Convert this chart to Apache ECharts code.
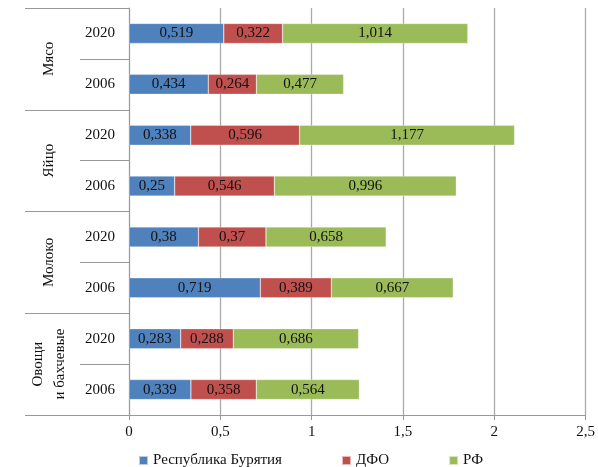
<!DOCTYPE html>
<html><head><meta charset="utf-8">
<script src="https://cdn.jsdelivr.net/npm/echarts@6/dist/echarts.min.js"></script>
<style>html,body{margin:0;padding:0;background:#fff}#c{width:598px;height:467px}</style>
</head><body><div id="c"></div>
<script>
const groups = ['Мясо', 'Яйцо', 'Молоко', 'Овощи\nи бахчевые'];
const years = ['2020', '2006', '2020', '2006', '2020', '2006', '2020', '2006'];
const seriesNames = ['Республика Бурятия', 'ДФО', 'РФ'];
const buryatia = [0.519, 0.434, 0.338, 0.25, 0.38, 0.719, 0.283, 0.339];
const dfo = [0.322, 0.264, 0.596, 0.546, 0.37, 0.389, 0.288, 0.358];
const rf = [1.014, 0.477, 1.177, 0.996, 0.658, 0.667, 0.686, 0.564];
const xTicks = { min: 0, max: 2.5, interval: 0.5 };
const colors = ['#4F81BD', '#C0504D', '#9BBB59'];

const font = '"Liberation Serif", "DejaVu Serif", serif';
const fmt = v => String(v).replace('.', ',');
const chart = echarts.init(document.getElementById('c'));
const values = [buryatia, dfo, rf];
chart.setOption({
  animation: false,
  textStyle: { fontFamily: font },
  color: colors,
  grid: { left: 129, right: 10, top: 8, bottom: 52 },
  legend: {
    top: 448, left: 133, itemWidth: 9, itemHeight: 9, itemGap: 59, icon: 'rect',
    textStyle: { fontFamily: font, fontSize: 15, color: '#111' },
    data: seriesNames
  },
  xAxis: {
    type: 'value', min: xTicks.min, max: xTicks.max, interval: xTicks.interval,
    axisLine: { show: true, lineStyle: { color: '#999' } },
    axisTick: { show: true, length: 5, lineStyle: { color: '#999' } },
    splitLine: { lineStyle: { color: '#aaaaaa', width: 1.3 } },
    axisLabel: { formatter: fmt, fontFamily: font, fontSize: 15, color: '#111', margin: 10 }
  },
  yAxis: [{
    type: 'category', data: years, inverse: true,
    axisLine: { show: true, lineStyle: { color: '#999' } },
    axisTick: { show: true, length: 49, lineStyle: { color: '#999' } },
    axisLabel: { fontFamily: font, fontSize: 15, color: '#111', margin: 14 }
  }, {
    type: 'category', data: groups, inverse: true, position: 'left', offset: 49,
    axisLine: { show: false },
    axisTick: { show: true, length: 55, lineStyle: { color: '#999' } },
    axisLabel: { rotate: 90, fontFamily: font, fontSize: 15, color: '#111', margin: 31, align: 'center', verticalAlign: 'middle', lineHeight: 22 }
  }],
  series: seriesNames.map((n, i) => ({
    name: n, type: 'bar', stack: 'a', yAxisIndex: 0, barWidth: 20,
    data: values[i],
    itemStyle: { borderColor: 'rgba(255,255,255,0.6)', borderWidth: 0.5 },
    label: { show: true, position: 'inside', formatter: p => fmt(p.value), fontFamily: font, fontSize: 15, color: '#111' }
  }))
});
</script></body></html>
